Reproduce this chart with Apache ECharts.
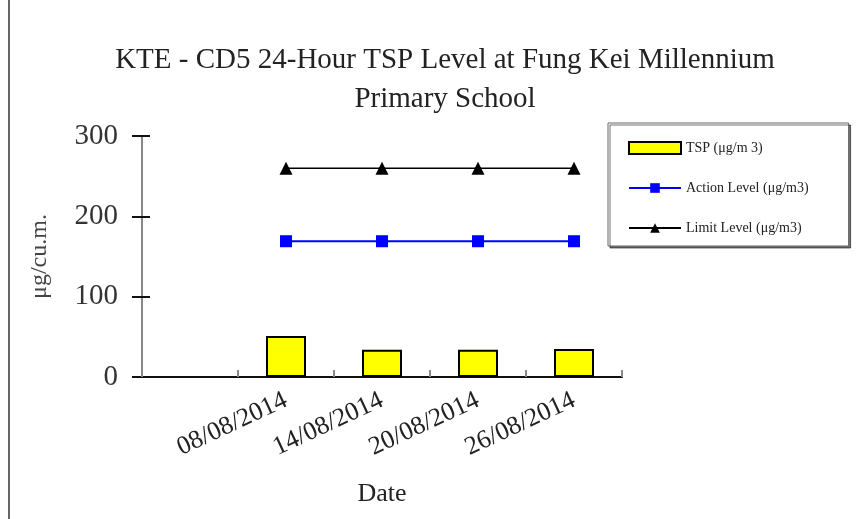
<!DOCTYPE html>
<html>
<head>
<meta charset="utf-8">
<script src="https://cdn.jsdelivr.net/npm/echarts@6/dist/echarts.min.js"></script>
<style>
  html, body { margin: 0; padding: 0; background: #fff; }
  #chart { width: 859px; height: 519px; }
</style>
</head>
<body>
<div id="chart"></div>
<script>
// 数据
var dates = ['', '08/08/2014', '14/08/2014', '20/08/2014', '26/08/2014'];
var tsp = ['-', 51, 34, 34, 35];
var actionLevel = ['-', 169, 169, 169, 169];
var limitLevel = ['-', 260, 260, 260, 260];
var yTicks = [0, 100, 200, 300];

var serif = '"Liberation Serif", "DejaVu Serif", serif';
var chart = echarts.init(document.getElementById('chart'), null, { renderer: 'canvas' });

var option = {
  backgroundColor: '#fff',
  animation: false,
  textStyle: { fontFamily: serif },
  title: {
    text: 'KTE - CD5 24-Hour TSP Level at Fung Kei Millennium\nPrimary School',
    left: 440,
    textAlign: 'center',
    top: 36,
    textStyle: { fontFamily: serif, fontSize: 29, fontWeight: 'normal', color: '#222', lineHeight: 39 }
  },
  legend: {
    orient: 'vertical',
    left: 608,
    top: 123,
    padding: [18, 40, 11, 20],
    itemGap: 26,
    itemWidth: 52,
    itemHeight: 12,
    backgroundColor: '#fff',
    borderColor: '#666',
    borderWidth: 1,
    shadowColor: 'rgba(0,0,0,0.55)',
    shadowOffsetX: 2,
    shadowOffsetY: 2,
    shadowBlur: 0,
    textStyle: { fontFamily: serif, fontSize: 14, color: '#222' },
    data: [
      { name: 'TSP (μg/m 3)', icon: 'rect' },
      { name: 'Action Level (μg/m3)' },
      { name: 'Limit Level (μg/m3)' }
    ]
  },
  grid: { left: 142, right: 237, top: 136, bottom: 142 },
  xAxis: {
    type: 'category',
    data: dates,
    name: 'Date',
    nameLocation: 'middle',
    nameGap: 104,
    nameTextStyle: { fontFamily: serif, fontSize: 26, color: '#222' },
    axisLine: { lineStyle: { color: '#111', width: 2 } },
    axisTick: { show: true, inside: true, length: 7, lineStyle: { color: '#888', width: 2 } },
    axisLabel: { rotate: 25, interval: 0, fontFamily: serif, fontSize: 26, color: '#222', margin: 22 }
  },
  yAxis: [
    {
      type: 'value',
      min: 0,
      max: 300,
      interval: 100,
      name: 'μg/cu.m.',
      nameLocation: 'middle',
      nameGap: 90,
      nameRotate: 90,
      nameTextStyle: { fontFamily: serif, fontSize: 24, color: '#444' },
      axisLine: { show: true, lineStyle: { color: '#888', width: 2 } },
      axisTick: { show: true, length: 10, lineStyle: { color: '#111', width: 2 } },
      splitLine: { show: false },
      axisLabel: {
        fontFamily: serif, fontSize: 29, color: '#333', margin: 24,
        formatter: function (v) { return yTicks.indexOf(v) >= 0 ? String(v) : ''; }
      }
    },
    {
      // 内侧刻度，让刻度线穿过轴线
      type: 'value',
      position: 'left',
      offset: 0,
      min: 0,
      max: 300,
      interval: 100,
      axisLine: { show: true, lineStyle: { color: '#888', width: 2 } },
      axisTick: { show: true, inside: true, length: 8, lineStyle: { color: '#111', width: 2 } },
      axisLabel: { show: false },
      splitLine: { show: false }
    }
  ],
  series: [
    {
      name: 'TSP (μg/m 3)',
      type: 'bar',
      data: tsp,
      barWidth: 40,
      itemStyle: { color: '#ffff00', borderColor: '#000', borderWidth: 2 }
    },
    {
      name: 'Action Level (μg/m3)',
      type: 'line',
      data: actionLevel,
      symbol: 'rect',
      symbolSize: 12,
      lineStyle: { color: '#0000ff', width: 2 },
      itemStyle: { color: '#0000ff' }
    },
    {
      name: 'Limit Level (μg/m3)',
      type: 'line',
      data: limitLevel,
      symbol: 'triangle',
      symbolSize: 13,
      lineStyle: { color: '#000', width: 1.5 },
      itemStyle: { color: '#000' }
    }
  ],
  graphic: [
    {
      type: 'line',
      shape: { x1: 9, y1: 0, x2: 9, y2: 519 },
      style: { stroke: '#333', lineWidth: 1.5 }
    }
  ]
};

chart.setOption(option);
</script>
</body>
</html>
